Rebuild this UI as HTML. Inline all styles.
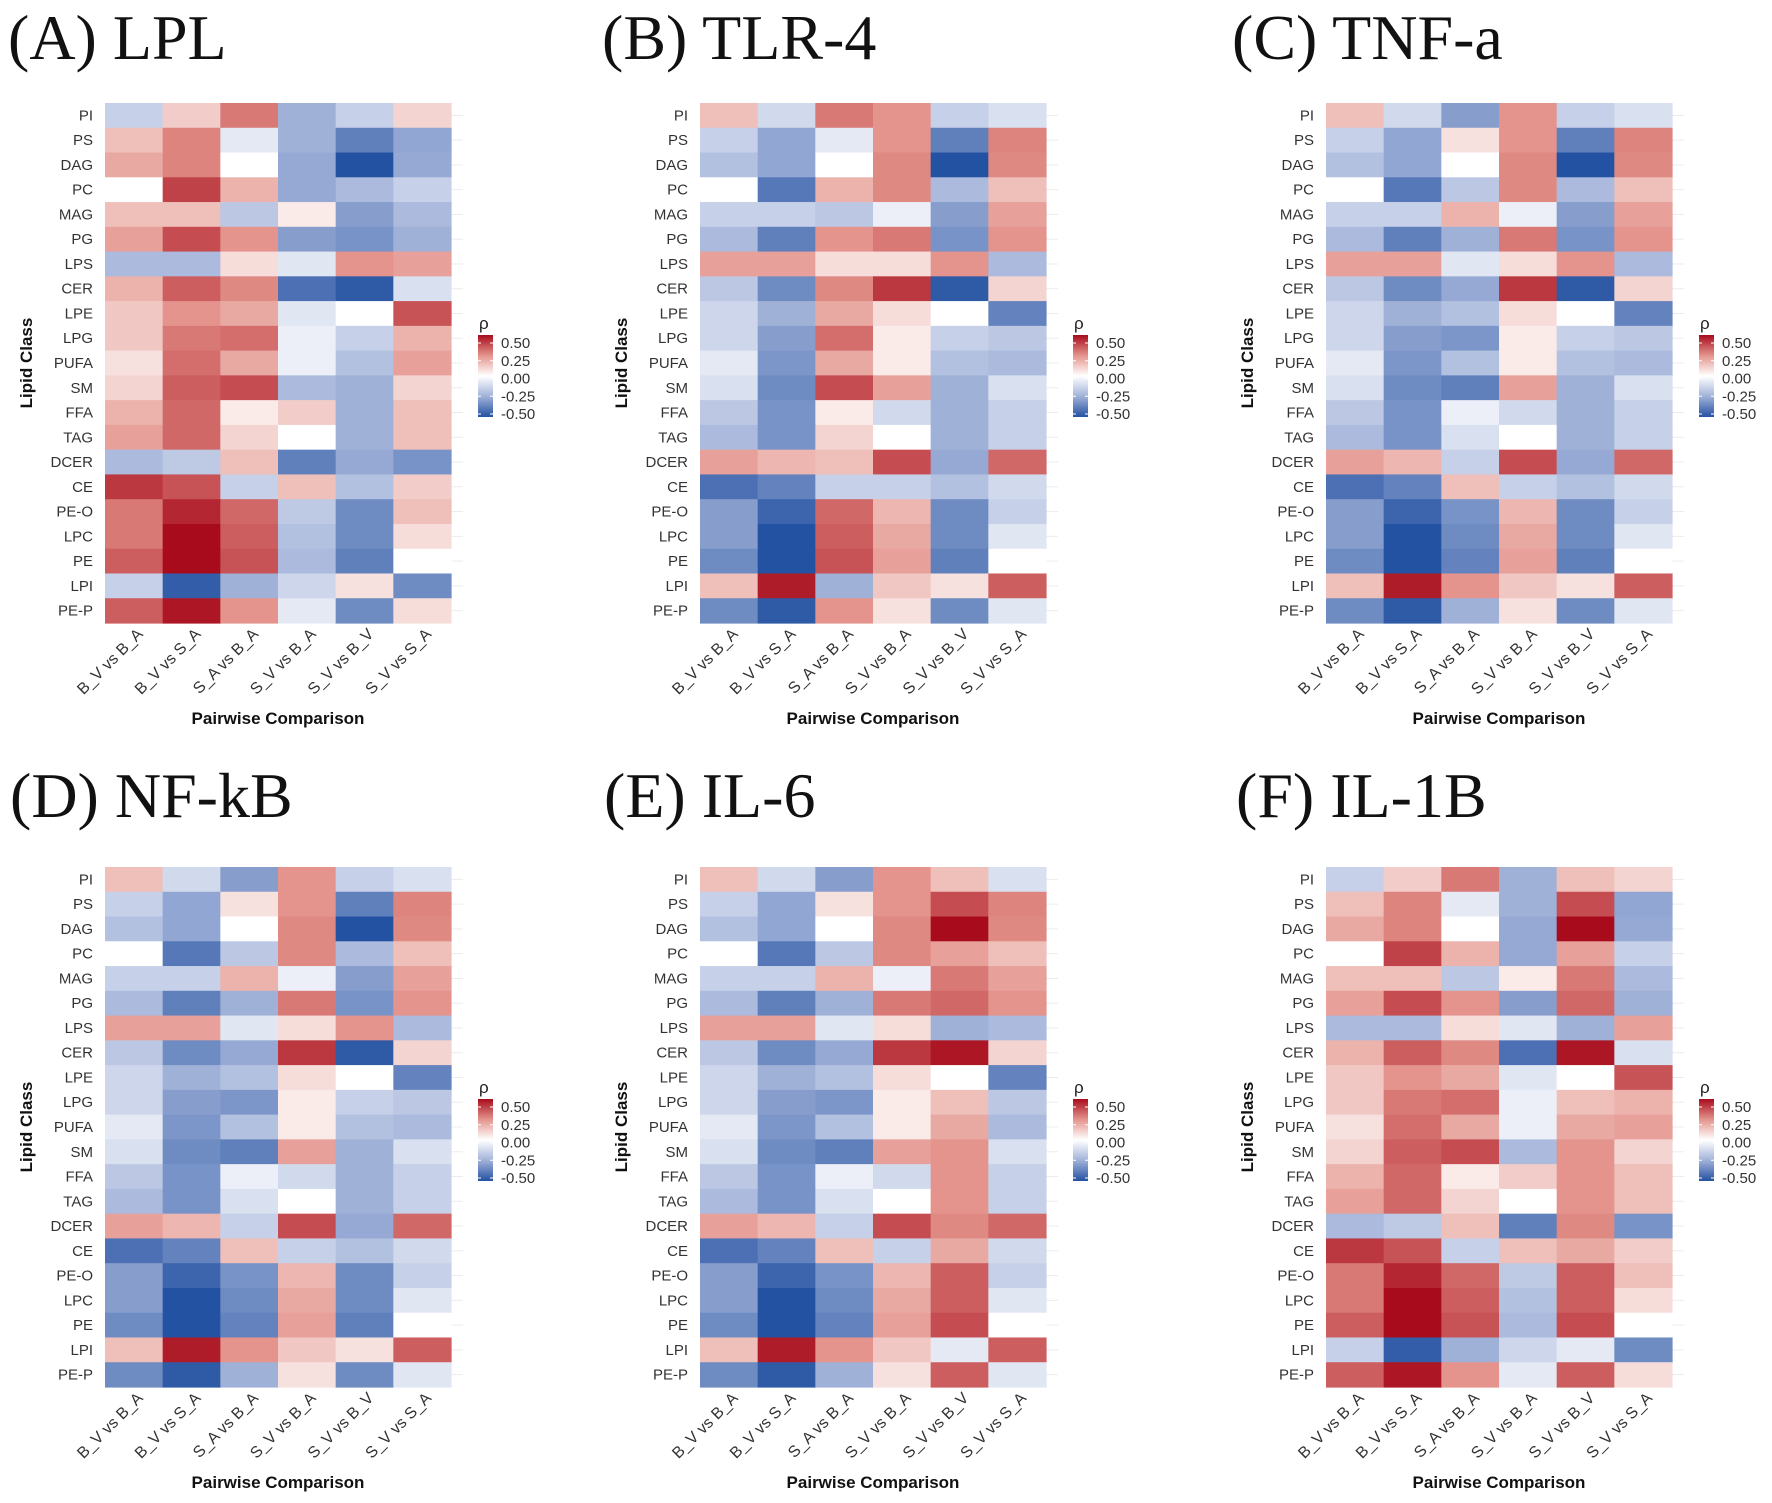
<!DOCTYPE html>
<html><head><meta charset="utf-8">
<style>
html,body{margin:0;padding:0;background:#fff;}
svg{display:block;}
</style></head>
<body>
<svg id="fig" width="1772" height="1503" viewBox="0 0 1772 1503" xmlns="http://www.w3.org/2000/svg">
<defs>
<linearGradient id="legGrad" x1="0" y1="1" x2="0" y2="0"></linearGradient>
</defs>
</svg>
<script>
const rowLabels=["PI","PS","DAG","PC","MAG","PG","LPS","CER","LPE","LPG","PUFA","SM","FFA","TAG","DCER","CE","PE-O","LPC","PE","LPI","PE-P"];
const colLabels=["B_V vs B_A","B_V vs S_A","S_A vs B_A","S_V vs B_A","S_V vs B_V","S_V vs S_A"];
const panelTitles=["(A) LPL","(B) TLR-4","(C) TNF-a","(D) NF-kB","(E) IL-6","(F) IL-1B"];
const legendTicks=[0.5,0.25,0,-0.25,-0.5];
const legendTickLabels=["0.50","0.25","0.00","-0.25","-0.50"];
const valuesA=[
[-0.15,0.12,0.3,-0.25,-0.15,0.1],
[0.15,0.28,-0.07,-0.25,-0.38,-0.28],
[0.2,0.28,0,-0.27,-0.5,-0.27],
[0,0.4,0.18,-0.27,-0.22,-0.15],
[0.15,0.15,-0.18,0.05,-0.3,-0.22],
[0.22,0.38,0.25,-0.3,-0.33,-0.25],
[-0.22,-0.22,0.08,-0.08,0.25,0.22],
[0.18,0.35,0.27,-0.42,-0.48,-0.1],
[0.13,0.25,0.2,-0.08,0,0.37],
[0.13,0.3,0.32,-0.05,-0.15,0.18],
[0.07,0.32,0.2,-0.05,-0.2,0.22],
[0.1,0.35,0.38,-0.22,-0.25,0.1],
[0.18,0.33,0.05,0.12,-0.25,0.15],
[0.22,0.33,0.1,0,-0.25,0.15],
[-0.22,-0.17,0.15,-0.38,-0.27,-0.33],
[0.42,0.37,-0.15,0.15,-0.2,0.12],
[0.3,0.45,0.33,-0.17,-0.35,0.15],
[0.3,0.55,0.35,-0.2,-0.35,0.08],
[0.35,0.55,0.37,-0.22,-0.38,0],
[-0.15,-0.47,-0.25,-0.13,0.07,-0.35],
[0.35,0.48,0.25,-0.07,-0.35,0.08]];
const valuesB=[
[0.15,-0.12,0.3,0.25,-0.15,-0.1],
[-0.15,-0.28,-0.07,0.25,-0.38,0.28],
[-0.2,-0.28,0,0.27,-0.5,0.27],
[0,-0.4,0.18,0.27,-0.22,0.15],
[-0.15,-0.15,-0.18,-0.05,-0.3,0.22],
[-0.22,-0.38,0.25,0.3,-0.33,0.25],
[0.22,0.22,0.08,0.08,0.25,-0.22],
[-0.18,-0.35,0.27,0.42,-0.48,0.1],
[-0.13,-0.25,0.2,0.08,0,-0.37],
[-0.13,-0.3,0.32,0.05,-0.15,-0.18],
[-0.07,-0.32,0.2,0.05,-0.2,-0.22],
[-0.1,-0.35,0.38,0.22,-0.25,-0.1],
[-0.18,-0.33,0.05,-0.12,-0.25,-0.15],
[-0.22,-0.33,0.1,0,-0.25,-0.15],
[0.22,0.17,0.15,0.38,-0.27,0.33],
[-0.42,-0.37,-0.15,-0.15,-0.2,-0.12],
[-0.3,-0.45,0.33,0.17,-0.35,-0.15],
[-0.3,-0.55,0.35,0.2,-0.35,-0.08],
[-0.35,-0.55,0.37,0.22,-0.38,0],
[0.15,0.47,-0.25,0.13,0.07,0.35],
[-0.35,-0.48,0.25,0.07,-0.35,-0.08]];
const valuesC=[
[0.15,-0.12,-0.3,0.25,-0.15,-0.1],
[-0.15,-0.28,0.07,0.25,-0.38,0.28],
[-0.2,-0.28,0,0.27,-0.5,0.27],
[0,-0.4,-0.18,0.27,-0.22,0.15],
[-0.15,-0.15,0.18,-0.05,-0.3,0.22],
[-0.22,-0.38,-0.25,0.3,-0.33,0.25],
[0.22,0.22,-0.08,0.08,0.25,-0.22],
[-0.18,-0.35,-0.27,0.42,-0.48,0.1],
[-0.13,-0.25,-0.2,0.08,0,-0.37],
[-0.13,-0.3,-0.32,0.05,-0.15,-0.18],
[-0.07,-0.32,-0.2,0.05,-0.2,-0.22],
[-0.1,-0.35,-0.38,0.22,-0.25,-0.1],
[-0.18,-0.33,-0.05,-0.12,-0.25,-0.15],
[-0.22,-0.33,-0.1,0,-0.25,-0.15],
[0.22,0.17,-0.15,0.38,-0.27,0.33],
[-0.42,-0.37,0.15,-0.15,-0.2,-0.12],
[-0.3,-0.45,-0.33,0.17,-0.35,-0.15],
[-0.3,-0.55,-0.35,0.2,-0.35,-0.08],
[-0.35,-0.55,-0.37,0.22,-0.38,0],
[0.15,0.47,0.25,0.13,0.07,0.35],
[-0.35,-0.48,-0.25,0.07,-0.35,-0.08]];
const valuesD=[
[0.15,-0.12,-0.3,0.25,-0.15,-0.1],
[-0.15,-0.28,0.07,0.25,-0.38,0.28],
[-0.2,-0.28,0,0.27,-0.5,0.27],
[0,-0.4,-0.18,0.27,-0.22,0.15],
[-0.15,-0.15,0.18,-0.05,-0.3,0.22],
[-0.22,-0.38,-0.25,0.3,-0.33,0.25],
[0.22,0.22,-0.08,0.08,0.25,-0.22],
[-0.18,-0.35,-0.27,0.42,-0.48,0.1],
[-0.13,-0.25,-0.2,0.08,0,-0.37],
[-0.13,-0.3,-0.32,0.05,-0.15,-0.18],
[-0.07,-0.32,-0.2,0.05,-0.2,-0.22],
[-0.1,-0.35,-0.38,0.22,-0.25,-0.1],
[-0.18,-0.33,-0.05,-0.12,-0.25,-0.15],
[-0.22,-0.33,-0.1,0,-0.25,-0.15],
[0.22,0.17,-0.15,0.38,-0.27,0.33],
[-0.42,-0.37,0.15,-0.15,-0.2,-0.12],
[-0.3,-0.45,-0.33,0.17,-0.35,-0.15],
[-0.3,-0.55,-0.35,0.2,-0.35,-0.08],
[-0.35,-0.55,-0.37,0.22,-0.38,0],
[0.15,0.47,0.25,0.13,0.07,0.35],
[-0.35,-0.48,-0.25,0.07,-0.35,-0.08]];
const valuesE=[
[0.15,-0.12,-0.3,0.25,0.15,-0.1],
[-0.15,-0.28,0.07,0.25,0.38,0.28],
[-0.2,-0.28,0,0.27,0.5,0.27],
[0,-0.4,-0.18,0.27,0.22,0.15],
[-0.15,-0.15,0.18,-0.05,0.3,0.22],
[-0.22,-0.38,-0.25,0.3,0.33,0.25],
[0.22,0.22,-0.08,0.08,-0.25,-0.22],
[-0.18,-0.35,-0.27,0.42,0.48,0.1],
[-0.13,-0.25,-0.2,0.08,0,-0.37],
[-0.13,-0.3,-0.32,0.05,0.15,-0.18],
[-0.07,-0.32,-0.2,0.05,0.2,-0.22],
[-0.1,-0.35,-0.38,0.22,0.25,-0.1],
[-0.18,-0.33,-0.05,-0.12,0.25,-0.15],
[-0.22,-0.33,-0.1,0,0.25,-0.15],
[0.22,0.17,-0.15,0.38,0.27,0.33],
[-0.42,-0.37,0.15,-0.15,0.2,-0.12],
[-0.3,-0.45,-0.33,0.17,0.35,-0.15],
[-0.3,-0.55,-0.35,0.2,0.35,-0.08],
[-0.35,-0.55,-0.37,0.22,0.38,0],
[0.15,0.47,0.25,0.13,-0.07,0.35],
[-0.35,-0.48,-0.25,0.07,0.35,-0.08]];
const valuesF=[
[-0.15,0.12,0.3,-0.25,0.15,0.1],
[0.15,0.28,-0.07,-0.25,0.38,-0.28],
[0.2,0.28,0,-0.27,0.5,-0.27],
[0,0.4,0.18,-0.27,0.22,-0.15],
[0.15,0.15,-0.18,0.05,0.3,-0.22],
[0.22,0.38,0.25,-0.3,0.33,-0.25],
[-0.22,-0.22,0.08,-0.08,-0.25,0.22],
[0.18,0.35,0.27,-0.42,0.48,-0.1],
[0.13,0.25,0.2,-0.08,0,0.37],
[0.13,0.3,0.32,-0.05,0.15,0.18],
[0.07,0.32,0.2,-0.05,0.2,0.22],
[0.1,0.35,0.38,-0.22,0.25,0.1],
[0.18,0.33,0.05,0.12,0.25,0.15],
[0.22,0.33,0.1,0,0.25,0.15],
[-0.22,-0.17,0.15,-0.38,0.27,-0.33],
[0.42,0.37,-0.15,0.15,0.2,0.12],
[0.3,0.45,0.33,-0.17,0.35,0.15],
[0.3,0.55,0.35,-0.2,0.35,0.08],
[0.35,0.55,0.37,-0.22,0.38,0],
[-0.15,-0.47,-0.25,-0.13,-0.07,-0.35],
[0.35,0.48,0.25,-0.07,0.35,0.08]];
const panelValues=[valuesA,valuesB,valuesC,valuesD,valuesE,valuesF];

const NS="http://www.w3.org/2000/svg";
const svg=document.getElementById('fig');
function mk(tag,attrs,parent){const e=document.createElementNS(NS,tag);for(const k in attrs)e.setAttribute(k,attrs[k]);(parent||svg).appendChild(e);return e;}
function lerp(a,b,t){return a.map((x,i)=>Math.round(x+(b[i]-x)*t));}
function colorOf(v){
  let t=Math.max(-1,Math.min(1,v/0.5));
  const W=[255,255,255];
  const R1=[228,148,140],R2=[168,12,28];
  const B1=[160,177,216],B2=[36,82,162];
  let c;
  if(t>=0){c=t<=0.5?lerp(W,R1,t/0.5):lerp(R1,R2,(t-0.5)/0.5);}
  else{const a=-t;c=a<=0.5?lerp(W,B1,a/0.5):lerp(B1,B2,(a-0.5)/0.5);}
  return `rgb(${c[0]},${c[1]},${c[2]})`;
}
const grad=document.getElementById('legGrad');
for(let i=0;i<=20;i++){const v=-0.5+i*0.05;mk('stop',{offset:(i/20),'stop-color':colorOf(v)},grad);}

const W=346,H=520;
const origins=[[105,103],[700,103],[1326,103],[105,867],[700,867],[1326,867]];
const titlePos=[[8,59],[602,59],[1232,59],[10,817],[604,817],[1236,817]];
const nR=rowLabels.length,nC=colLabels.length;
const cw=W/nC,rh=H/nR;
function xScale(ci,x0){return x0+ci*cw;}
function yScale(ri,y0){return y0+ri*rh;}
function legY(v,y0){return y0+233+7+(0.5-v)/1.0*71;}

panelValues.forEach((vals,p)=>{
  const [x0,y0]=origins[p];
  const g=mk('g',{});
  
  
  const tt=mk('text',{x:titlePos[p][0],y:titlePos[p][1],'font-family':'"Liberation Serif",serif','font-size':64,fill:'#111'},g);
  tt.textContent=panelTitles[p];
  
  
  for(let r=0;r<nR;r++){
    const yc=yScale(r,y0)+rh/2;
    mk('line',{x1:x0+W,x2:x0+W+12,y1:yc,y2:yc,stroke:'#ececec','stroke-width':1},g);
  }
  vals.forEach((row,r)=>{
    row.forEach((v,c)=>{
      const rect=mk('rect',{x:xScale(c,x0),y:yScale(r,y0),width:cw+0.6,height:rh+0.6,fill:colorOf(v)},g);
      
      
    });
  });
  rowLabels.forEach((lab,r)=>{
    const t=mk('text',{x:x0-12,y:yScale(r,y0)+rh/2+5,'text-anchor':'end','font-family':'"Liberation Sans",sans-serif','font-size':15,fill:'#333'},g);
    t.textContent=lab;
    
    
  });
  colLabels.forEach((lab,c)=>{
    const cx=xScale(c,x0)+cw/2+10, cy=y0+H+12;
    const t=mk('text',{x:cx,y:cy,'text-anchor':'end','font-family':'"Liberation Sans",sans-serif','font-size':16,fill:'#333',transform:`rotate(-45 ${cx} ${cy})`},g);
    t.textContent=lab;
    
    
  });
  const xt=mk('text',{x:x0+W/2,y:y0+H+101,'text-anchor':'middle','font-family':'"Liberation Sans",sans-serif','font-size':17,'font-weight':'bold',fill:'#111'},g);
  xt.textContent='Pairwise Comparison';
  
  
  const yx=x0-73, yy=y0+H/2;
  const yt=mk('text',{x:yx,y:yy,'text-anchor':'middle','font-family':'"Liberation Sans",sans-serif','font-size':17,'font-weight':'bold',fill:'#111',transform:`rotate(-90 ${yx} ${yy})`},g);
  yt.textContent='Lipid Class';
  
  
  const lg=mk('g',{},g);
  
  
  const rho=mk('text',{x:x0+374,y:y0+226,'font-family':'"Liberation Sans",sans-serif','font-size':17,fill:'#222'},lg);
  rho.textContent='ρ';
  mk('rect',{x:x0+373,y:y0+232,width:15,height:82,fill:'url(#legGrad)'},lg);
  legendTicks.forEach((v,i)=>{
    const ly=legY(v,y0);
    mk('line',{x1:x0+373,x2:x0+376,y1:ly,y2:ly,stroke:'#fff','stroke-width':1},lg);
    mk('line',{x1:x0+385,x2:x0+388,y1:ly,y2:ly,stroke:'#fff','stroke-width':1},lg);
    const t=mk('text',{x:x0+396,y:ly+5,'font-family':'"Liberation Sans",sans-serif','font-size':15,fill:'#333'},lg);
    t.textContent=legendTickLabels[i];
    
    
  });
});
</script>
</body></html>
